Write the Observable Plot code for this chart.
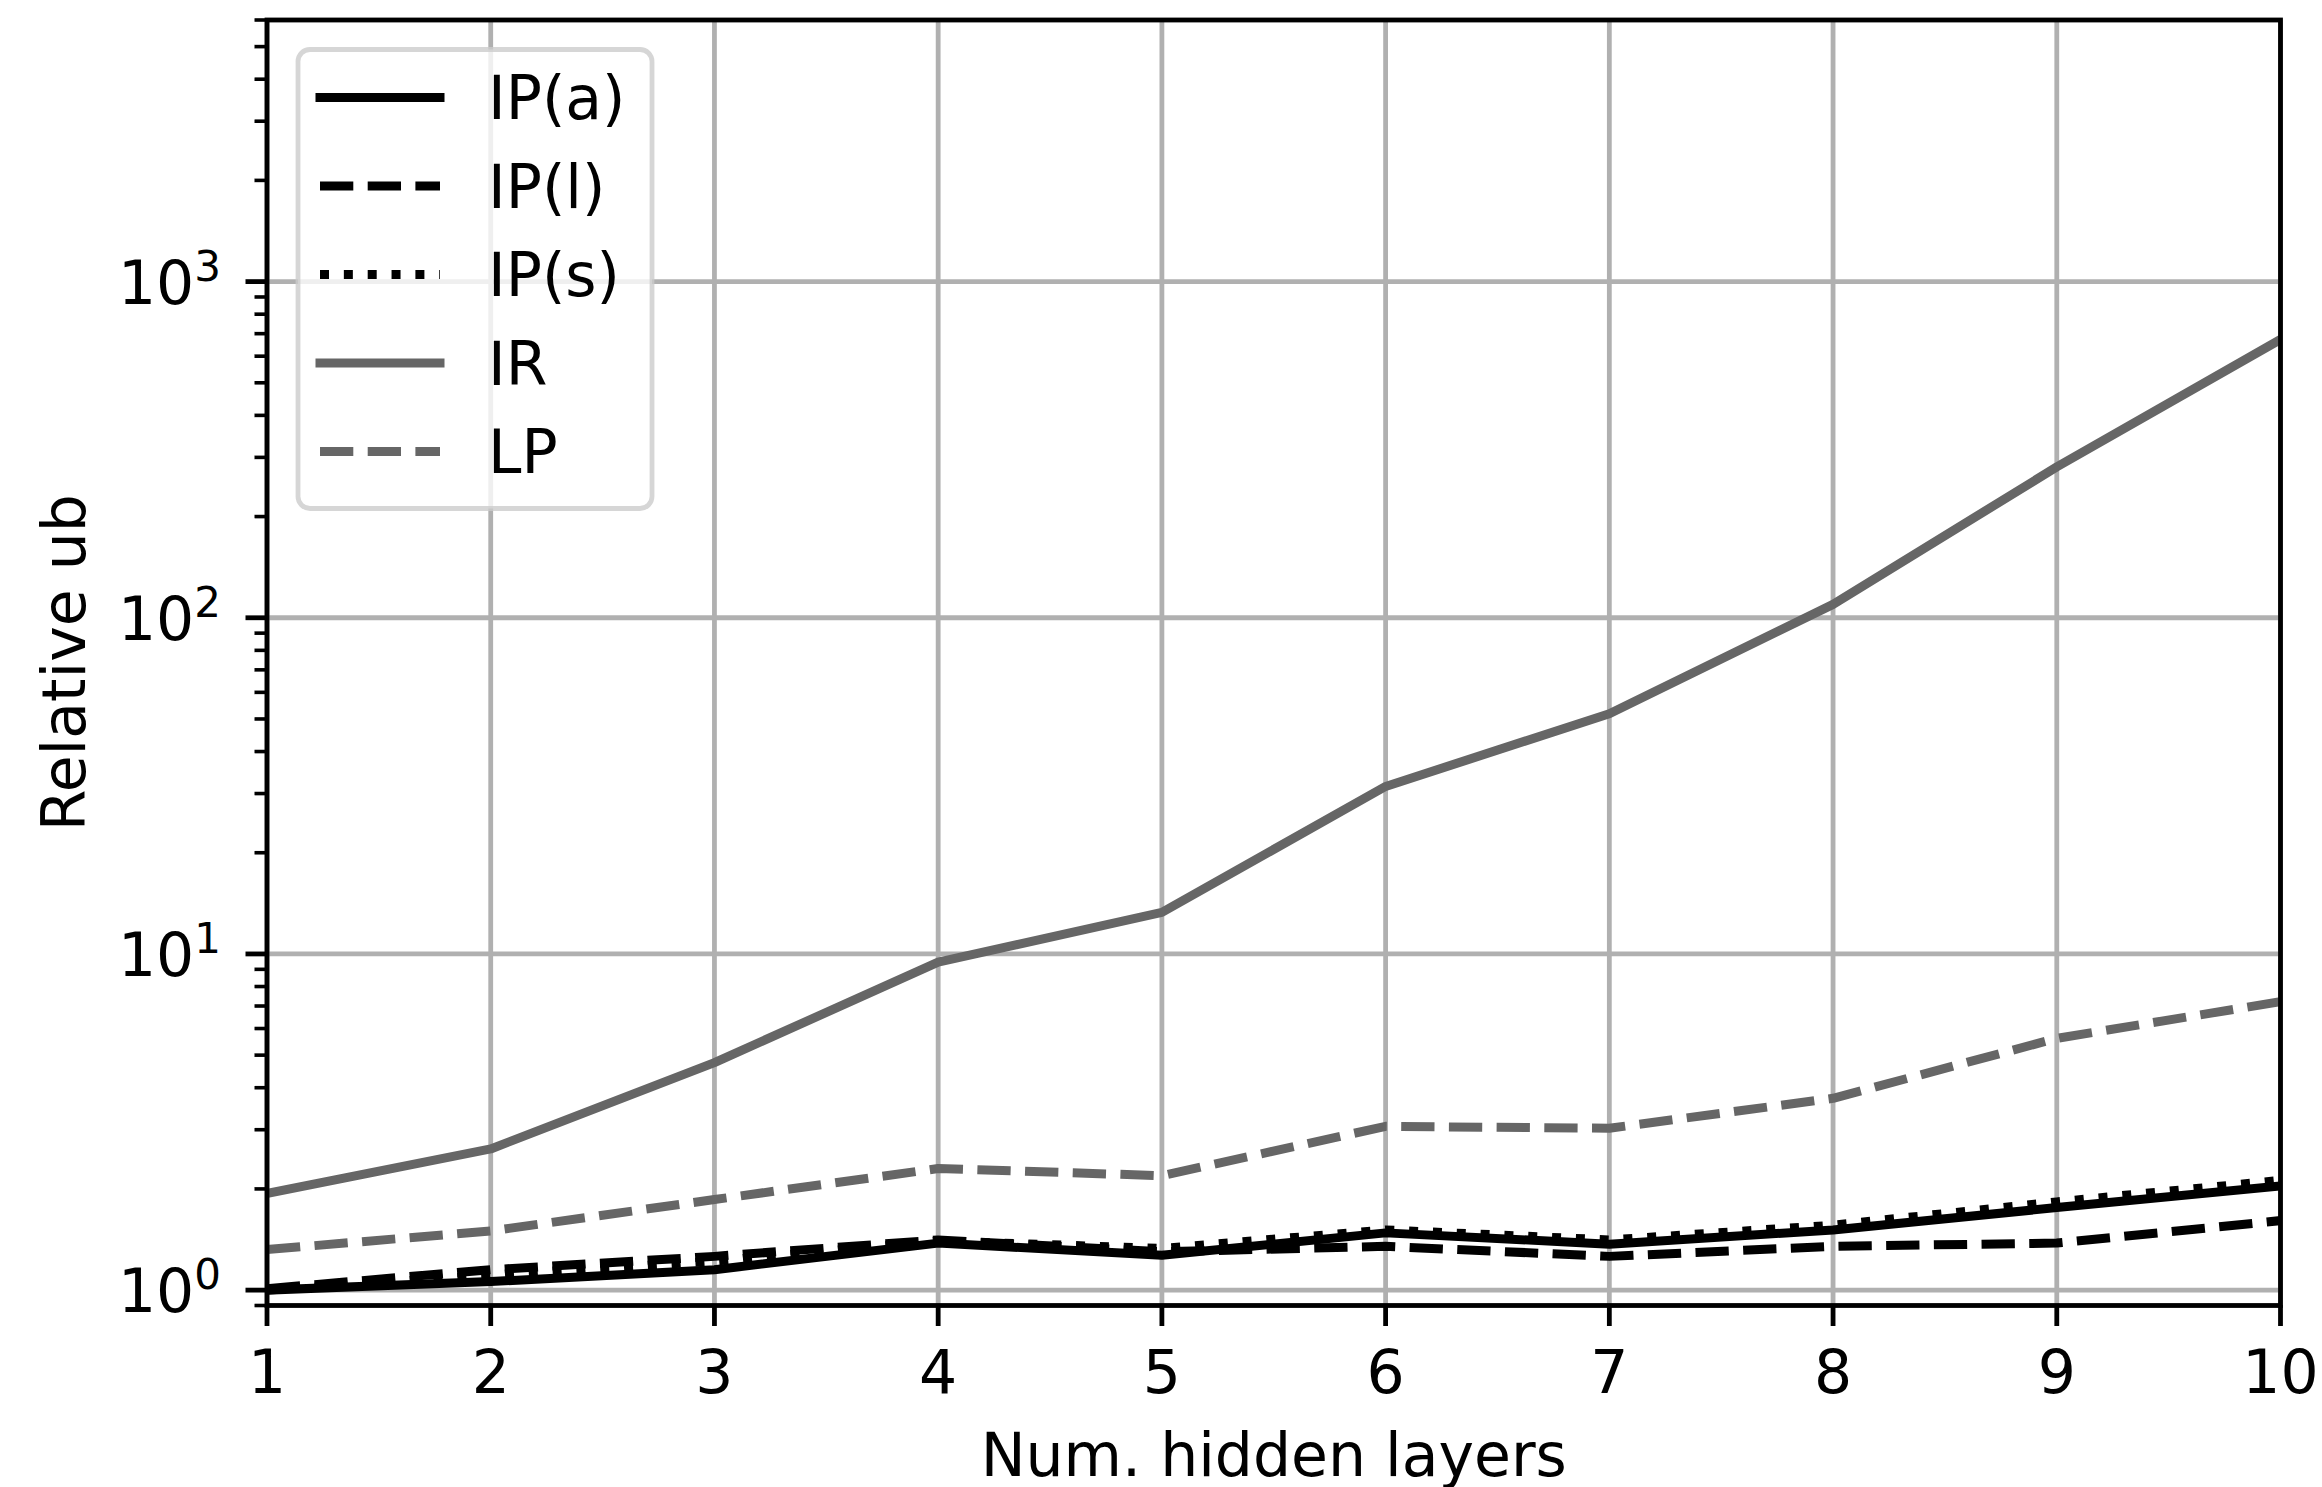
<!DOCTYPE html>
<html>
<head>
<meta charset="utf-8">
<script src="https://cdn.jsdelivr.net/npm/d3@7"></script>
<script src="https://cdn.jsdelivr.net/npm/@observablehq/plot@0.6"></script>
<style>
html, body { margin: 0; padding: 0; background: #fff; }
#chart svg { display: block; }
</style>
</head>
<body>
<div id="chart"></div>
<script>
// ---- data ----
const layers = [1, 2, 3, 4, 5, 6, 7, 8, 9, 10];
const ipA = [1.00, 1.06, 1.15, 1.38, 1.27, 1.48, 1.37, 1.51, 1.76, 2.04];
const ipL = [1.01, 1.15, 1.26, 1.41, 1.30, 1.35, 1.26, 1.35, 1.38, 1.61];
const ipS = [1.00, 1.11, 1.22, 1.40, 1.33, 1.51, 1.41, 1.56, 1.83, 2.12];
const ir  = [1.94, 2.63, 4.75, 9.45, 13.3, 31.5, 51.8, 109.6, 281, 673];
const lp  = [1.32, 1.50, 1.86, 2.30, 2.19, 3.07, 3.03, 3.72, 5.61, 7.21];
const seriesNames = ["IP(a)", "IP(l)", "IP(s)", "IR", "LP"];
const majorTicks = [1, 10, 100, 1000];
const minorTicks = [0.9, 2, 3, 4, 5, 6, 7, 8, 9, 20, 30, 40, 50, 60, 70, 80, 90,
  200, 300, 400, 500, 600, 700, 800, 900, 2000, 3000, 4000, 5000, 6000];
const yDomain = [0.9, 6000];
const xLabel = "Num. hidden layers";
const yLabel = "Relative ub";

// ---- styles ----
const lw = 9;
const styles = [
  {stroke: "black", dash: null, cap: "square"},
  {stroke: "black", dash: "33.3,14.4", cap: "butt"},
  {stroke: "black", dash: "9,14.85", cap: "butt"},
  {stroke: "#666666", dash: null, cap: "square"},
  {stroke: "#666666", dash: "33.3,14.4", cap: "butt"}
];
const values = [ipA, ipL, ipS, ir, lp];
const tables = values.map((arr, k) => layers.map((l, i) => ({layer: l, value: arr[i], series: seriesNames[k]})));

const gridStyle = {stroke: "#b0b0b0", strokeOpacity: 1, strokeWidth: 4.8};

const svg = Plot.plot({
  width: 2322,
  height: 1487,
  marginLeft: 266.5,
  marginRight: 42,
  marginTop: 19.5,
  marginBottom: 182,
  style: {fontFamily: "DejaVu Sans", fontSize: "60px", background: "white", color: "black", overflow: "visible"},
  x: {domain: [1, 10]},
  y: {type: "log", domain: yDomain},
  marks: [
    Plot.gridX({ticks: layers, ...gridStyle}),
    Plot.gridY({ticks: majorTicks, ...gridStyle}),
    ...tables.map((t, k) => Plot.line(t, {
      x: "layer", y: "value",
      stroke: styles[k].stroke,
      strokeWidth: lw,
      strokeDasharray: styles[k].dash,
      strokeLinecap: styles[k].cap,
      strokeLinejoin: "round",
      clip: true
    })),
    Plot.frame({stroke: "black", strokeWidth: 4.8}),
    Plot.axisX({ticks: layers, tickSize: 21, tickPadding: 24, strokeWidth: 4.8, stroke: "black",
      tickFormat: d => String(d), label: null, fontSize: 60}),
    Plot.axisY({ticks: majorTicks, tickSize: 21, tickPadding: 25, strokeWidth: 4.8, stroke: "black",
      tickFormat: d => String(Math.round(Math.log10(d))), label: null, fontSize: 60}),
    Plot.axisY({ticks: minorTicks, tickSize: 12, strokeWidth: 3.6, stroke: "black", fill: "none", label: null}),
    Plot.text([xLabel], {frameAnchor: "bottom", dy: 151, text: d => d, fontSize: 60,
      textAnchor: "middle", lineAnchor: "middle", fill: "black"}),
    Plot.text([yLabel], {frameAnchor: "left", dx: -201, rotate: -90, text: d => d, fontSize: 60,
      textAnchor: "middle", lineAnchor: "middle", fill: "black"})
  ]
});

// superscript exponents on the log tick labels: 10^k
svg.querySelectorAll('g[aria-label="y-axis tick label"] text').forEach(t => {
  const e = t.textContent;
  t.textContent = "10";
  const ts = document.createElementNS("http://www.w3.org/2000/svg", "tspan");
  ts.setAttribute("font-size", "42");
  ts.setAttribute("dy", "-23");
  ts.textContent = e;
  t.appendChild(ts);
  t.setAttribute("y", "0.37em");
});

// legend (upper left, inside the axes)
const root = d3.select(svg);
const lg = root.append("g").attr("class", "legend").attr("text-anchor", "start");
lg.append("rect")
  .attr("x", 298).attr("y", 49.5).attr("width", 354).attr("height", 459)
  .attr("rx", 12).attr("ry", 12)
  .attr("fill", "white").attr("fill-opacity", 0.8)
  .attr("stroke", "#cccccc").attr("stroke-opacity", 0.8).attr("stroke-width", 4.8);
const rowY = [97.5, 186, 274.5, 363, 451.5];
seriesNames.forEach((name, k) => {
  const s = styles[k];
  lg.append("line")
    .attr("x1", 320).attr("x2", 440).attr("y1", rowY[k]).attr("y2", rowY[k])
    .attr("stroke", s.stroke).attr("stroke-width", lw)
    .attr("stroke-linecap", s.cap)
    .attr("stroke-dasharray", s.dash);
  lg.append("text")
    .attr("x", 488).attr("y", rowY[k] + 21.9)
    .attr("text-anchor", "start")
    .attr("font-family", "DejaVu Sans").attr("font-size", 60).attr("fill", "black")
    .text(name);
});

document.getElementById("chart").appendChild(svg);
</script>
</body>
</html>
